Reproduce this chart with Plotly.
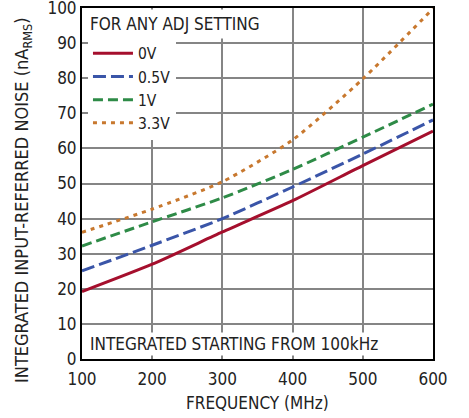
import plotly.graph_objects as go

freq = [100, 200, 300, 400, 500, 600]
v0 = [19.2, 27.0, 36.2, 45.1, 55.1, 64.9]
v05 = [25.1, 32.4, 40.0, 49.0, 58.4, 68.1]
v1 = [32.2, 39.1, 45.9, 54.0, 63.2, 72.6]
v33 = [36.1, 42.7, 50.5, 62.4, 79.8, 99.8]
series_names = ["0V", "0.5V", "1V", "3.3V"]

x_ticks = [100, 200, 300, 400, 500, 600]
y_ticks = [0, 10, 20, 30, 40, 50, 60, 70, 80, 90, 100]

FONT = "DejaVu Sans Condensed, Liberation Sans Narrow, sans-serif"
TXT = "#222"

fig = go.Figure()
styles = [
    ("#a50f2d", "solid"),
    ("#3a55a8", "13px,5px"),
    ("#2e8b47", "10px,5px"),
    ("#c8782e", "4px,5px"),
]
for name, ys, (col, dash) in zip(series_names, [v0, v05, v1, v33], styles):
    fig.add_trace(go.Scatter(x=freq, y=ys, name=name, mode="lines",
                             line=dict(color=col, width=3, dash=dash, shape="spline", smoothing=0.6)))

axis_common = dict(showgrid=True, gridcolor="#858585", gridwidth=1.5, zeroline=False,
                   showline=True, linecolor="black", linewidth=2, mirror=True,
                   ticks="", automargin=False, ticklabeloverflow="allow",
                   tickfont=dict(family=FONT, size=17, color=TXT))

fig.update_layout(
    width=469, height=418,
    margin=dict(l=82, r=36, t=8, b=59),
    paper_bgcolor="white", plot_bgcolor="white",
    font=dict(family=FONT, size=17, color=TXT),
    showlegend=True,
    legend=dict(x=0.017, y=0.918, xanchor="left", yanchor="top",
                bgcolor="white", borderwidth=0,
                font=dict(family=FONT, size=15.5, color=TXT),
                tracegroupgap=0, itemwidth=40),
    xaxis=dict(range=[100, 600], tickvals=x_ticks, ticklabelstandoff=4, **axis_common),
    yaxis=dict(range=[0, 100], tickvals=y_ticks, **axis_common),
)

fig.add_annotation(x=0, y=1, xref="paper", yref="paper", xanchor="left", yanchor="top",
                   text="FOR ANY ADJ SETTING", showarrow=False, bgcolor="white",
                   font=dict(family=FONT, size=17, color=TXT), borderpad=4, xshift=3, yshift=-1)
fig.add_annotation(x=0, y=0, xref="paper", yref="paper", xanchor="left", yanchor="bottom",
                   text="INTEGRATED STARTING FROM 100kHz", showarrow=False, bgcolor="white",
                   font=dict(family=FONT, size=17, color=TXT), borderpad=1, xshift=6, yshift=3)
# axis titles
fig.add_annotation(x=0.5, y=0, xref="paper", yref="paper", xanchor="center", yanchor="middle",
                   text="FREQUENCY (MHz)", showarrow=False,
                   font=dict(family=FONT, size=17, color=TXT), yshift=-44)
fig.add_annotation(x=0, y=0.453, xref="paper", yref="paper", xanchor="center", yanchor="middle",
                   text="INTEGRATED INPUT-REFERRED NOISE (nA<sub>RMS</sub>)", showarrow=False,
                   textangle=-90, font=dict(family=FONT, size=18, color=TXT), xshift=-59)

fig.write_html("out.html", config={"displayModeBar": False},
               post_script="document.body.style.margin='0';")
